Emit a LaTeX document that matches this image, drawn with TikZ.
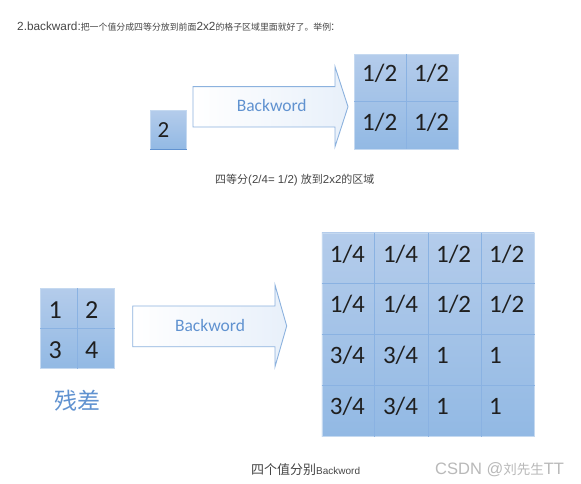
\documentclass[tikz,border=0pt]{standalone}
\usepackage{fontspec}
\setmainfont{Liberation Sans}
\newfontfamily\cjkfont{Noto Sans CJK SC}
\newfontfamily\cellfont{Carlito}
\usetikzlibrary{positioning,calc}
\definecolor{cellTop}{RGB}{180,204,235}
\definecolor{cellBottom}{RGB}{146,185,228}
\definecolor{gridLine}{RGB}{138,178,226}
\definecolor{arrowEdge}{RGB}{140,178,222}
\definecolor{arrowTip}{RGB}{232,240,250}
\definecolor{labelBlue}{RGB}{96,146,208}
\definecolor{captionGray}{RGB}{70,70,70}
\definecolor{markGray}{RGB}{185,185,185}
\newcommand{\cjksize}[2]{{\cjkfont\fontsize{#1}{#1}\selectfont #2}}
\tikzset{
  gridbg/.style={anchor=north west, inner sep=0pt, top color=cellTop, bottom color=cellBottom, draw=gridLine!50, line width=0.5pt},
  gridline/.style={draw=gridLine, line width=0.9pt},
  celltxt/.style={anchor=base west, inner sep=0pt, font=\cellfont\fontsize{25}{25}\selectfont, text=black!88},
  blockarrow/.style={draw=arrowEdge, line width=0.9pt, left color=white, right color=arrowTip, line join=miter},
  arrowtxt/.style={anchor=base, inner sep=0pt, font=\cellfont\fontsize{17.5}{17.5}\selectfont, text=labelBlue},
  caption/.style={anchor=base west, inner sep=0pt, text=captionGray}
}

\begin{document}
\begin{tikzpicture}[x=1pt, y=-1pt]
  \fill[white] (0,0) rectangle (581,484);
  \useasboundingbox (0,0) rectangle (581,484);

  % header line
  \node[caption, font=\fontsize{11.8}{11.8}\selectfont] (title) at (17,31)
    {2.backward:\cjksize{8.9}{把一个值分成四等分放到前面}2x2\cjksize{8.9}{的格子区域里面就好了。举例}:};

  % top example: 2 -> 2x2
  \node[gridbg, minimum width=36pt, minimum height=39pt] (boxTwo) at (150,110) {};
  \draw[line width=1.2pt, draw=labelBlue] (boxTwo.south west) -- (boxTwo.south east);
  \node[celltxt, font=\cellfont\fontsize{23}{23}\selectfont] (valTwo) at (157.5,137.8) {2};

  \draw[blockarrow] (193,86.7) -- (335,86.7) -- (335,66.7) -- (348,106.7)
    -- (335,146.7) -- (335,127) -- (193,127) -- cycle;
  \node[arrowtxt] (bwTop) at (271.7,111.7) {Backword};

  \node[gridbg, minimum width=103.7pt, minimum height=95pt] (gridA) at (354,54) {};
  \draw[gridline] (gridA.north) -- (gridA.south);
  \draw[gridline] (gridA.west) -- (gridA.east);
  \node[celltxt] (a11) at (362,81.7) {1/2};
  \node[celltxt] (a12) at (413.9,81.7) {1/2};
  \node[celltxt] (a21) at (362,131) {1/2};
  \node[celltxt] (a22) at (413.9,131) {1/2};

  \node[caption] (capTop) at (215,183)
    {\cjksize{11}{四等分}{\fontsize{11.5}{11.5}\selectfont(2/4= 1/2) }\cjksize{11}{放到}{\fontsize{11.5}{11.5}\selectfont 2x2}\cjksize{11}{的区域}};

  % bottom example: residual 2x2 -> 4x4
  \node[gridbg, minimum width=74pt, minimum height=80pt] (gridC) at (40,288) {};
  \draw[gridline] (gridC.north) -- (gridC.south);
  \draw[gridline] (gridC.west) -- (gridC.east);
  \node[celltxt, font=\cellfont\fontsize{26}{26}\selectfont] (c11) at (48.3,318.3) {1};
  \node[celltxt, font=\cellfont\fontsize{26}{26}\selectfont] (c12) at (85,318.3) {2};
  \node[celltxt, font=\cellfont\fontsize{26}{26}\selectfont] (c21) at (48.3,358.3) {3};
  \node[celltxt, font=\cellfont\fontsize{26}{26}\selectfont] (c22) at (85,358.3) {4};
  \node[inner sep=0pt, text=labelBlue, font=\cjkfont\fontsize{23}{23}\selectfont] (residual) at (77.5,401) {残差};

  \draw[blockarrow] (132.7,306) -- (275,306) -- (275,285) -- (286.7,326)
    -- (275,366.7) -- (275,346.7) -- (132.7,346.7) -- cycle;
  \node[arrowtxt] (bwBottom) at (210,331.7) {Backword};

  \node[gridbg, minimum width=212.3pt, minimum height=203.3pt] (gridB) at (321.7,232.7) {};
  \foreach \f in {0.25,0.5,0.75} {
    \draw[gridline] ($(gridB.north west)!\f!(gridB.north east)$) -- ($(gridB.south west)!\f!(gridB.south east)$);
    \draw[gridline] ($(gridB.north west)!\f!(gridB.south west)$) -- ($(gridB.north east)!\f!(gridB.south east)$);
  }
  \node[celltxt] (b11) at (329.7,262.1) {1/4};
  \node[celltxt] (b12) at (382.8,262.1) {1/4};
  \node[celltxt] (b13) at (435.9,262.1) {1/2};
  \node[celltxt] (b14) at (489.0,262.1) {1/2};
  \node[celltxt] (b21) at (329.7,312.9) {1/4};
  \node[celltxt] (b22) at (382.8,312.9) {1/4};
  \node[celltxt] (b23) at (435.9,312.9) {1/2};
  \node[celltxt] (b24) at (489.0,312.9) {1/2};
  \node[celltxt] (b31) at (329.7,363.7) {3/4};
  \node[celltxt] (b32) at (382.8,363.7) {3/4};
  \node[celltxt] (b33) at (435.9,363.7) {1};
  \node[celltxt] (b34) at (489.0,363.7) {1};
  \node[celltxt] (b41) at (329.7,414.5) {3/4};
  \node[celltxt] (b42) at (382.8,414.5) {3/4};
  \node[celltxt] (b43) at (435.9,414.5) {1};
  \node[celltxt] (b44) at (489.0,414.5) {1};

  \node[caption] (capBottom) at (251,474.5)
    {\cjksize{13}{四个值分别}{\fontsize{10}{10}\selectfont Backword}};
  \node[caption, text=markGray, font=\fontsize{16.5}{16.5}\selectfont] (mark) at (435,474.5)
    {CSDN @\cjksize{13.5}{刘先生}TT};
\end{tikzpicture}
\end{document}
